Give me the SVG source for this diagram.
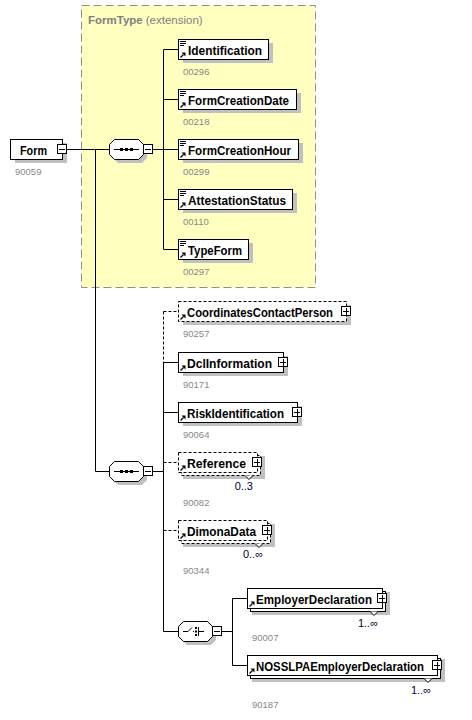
<svg xmlns="http://www.w3.org/2000/svg" xmlns:xlink="http://www.w3.org/1999/xlink" width="472" height="720" viewBox="0 0 472 720">
<style>
.bg{fill:#fff}
.box{fill:#fff;stroke:#000;stroke-width:1}
.opt{stroke-dasharray:3,2}
.sh{fill:#c0c0c0}
.lbl{font-family:"Liberation Sans",Arial,sans-serif;font-weight:bold;font-size:13px;fill:#000}
.num{font-family:"Liberation Sans",Arial,sans-serif;font-size:9.5px;fill:#888}
.mult{font-family:"Liberation Sans",Arial,sans-serif;font-size:11px;fill:#000030;text-anchor:end}
.conn{stroke:#000;stroke-width:1;fill:none}
.dash{stroke-dasharray:3,2}
</style>
<defs>
<g id="minus"><rect x="0.5" y="0.5" width="9" height="9" fill="#fff" stroke="#000"/><path d="M2 5.5h6" stroke="#000"/></g>
<g id="plus"><rect x="0.5" y="0.5" width="9" height="9" fill="#fff" stroke="#000"/><path d="M2 5.5h6M5.5 2v7" stroke="#000"/></g>
<g id="ref"><path d="M0.5 5.5L3.5 2.5" stroke="#000" stroke-width="1.3"/><path d="M1.5 0.5H5.5V4.5Z" fill="#000"/></g>
<g id="simple"><path d="M0 0.5h6M0 2.5h6M0 4.5h4" stroke="#000"/></g>
<g id="notch"><path d="M-4 0L0 4L4 0" fill="#fff" stroke="#000"/></g>
</defs>
<rect x="0" y="0" width="472" height="720" class="bg"/>

<g id="FormType">
<rect x="81.5" y="5.5" width="234" height="282" fill="#ffffc0" stroke="#909090" stroke-dasharray="8,4"/>
<text x="88" y="24" font-family="Liberation Sans, Arial, sans-serif" font-size="11.5px" fill="#808080"><tspan font-weight="bold">FormType</tspan><tspan dx="3">(extension)</tspan></text>
</g>

<g id="connectors">
<path class="conn" d="M67 149.5H109M95.5 149.5V471.5H109"/>
<path class="conn" d="M153 149.5H163.5M163.5 49.5V249.5M163.5 49.5H178M163.5 99.5H178M163.5 149.5H178M163.5 199.5H178M163.5 249.5H178"/>
<path class="conn" d="M153 471.5H163.5M163.5 362.5V631.5H178M163.5 362.5H178M163.5 412.5H178"/>
<path class="conn dash" d="M163.5 311.5V362.5M163.5 311.5H178M163.5 462.5H178M163.5 530.5H178"/>
<path class="conn" d="M222 631.5H232.5M232.5 598.5V665.5M232.5 598.5H247M232.5 665.5H247"/>
</g>

<g id="Form">
<rect class="sh" x="15" y="143" width="52" height="20"/>
<rect class="box" x="10.5" y="139.5" width="52" height="20"/>
<text class="lbl" x="20" y="154.5" textLength="27" lengthAdjust="spacingAndGlyphs">Form</text>
<use xlink:href="#minus" x="57" y="144"/>
<text class="num" x="15" y="175">90059</text>
</g>

<g id="seq1">
<path class="sh" d="M118 143H142L147 148V158L142 163H118L113 158V148Z"/>
<path class="box" d="M114.5 139.5H138.5L143.5 144.5V154.5L138.5 159.5H114.5L109.5 154.5V144.5Z"/>
<path d="M114 149.5H139" stroke="#000"/>
<rect x="120" y="148" width="3" height="3" fill="#000"/><rect x="125" y="148" width="3" height="3" fill="#000"/><rect x="130" y="148" width="3" height="3" fill="#000"/>
<use xlink:href="#minus" x="143" y="144"/>
</g>

<g id="Identification">
<rect class="sh" x="183" y="43" width="90" height="20"/>
<rect class="box" x="178.5" y="39.5" width="90" height="20"/>
<use xlink:href="#simple" x="180" y="41"/><use xlink:href="#ref" x="180" y="52"/>
<text class="lbl" x="188" y="54.5" textLength="74" lengthAdjust="spacingAndGlyphs">Identification</text>
<text class="num" x="183" y="75">00296</text>
</g>
<g id="FormCreationDate">
<rect class="sh" x="183" y="93" width="118" height="20"/>
<rect class="box" x="178.5" y="89.5" width="118" height="20"/>
<use xlink:href="#simple" x="180" y="91"/><use xlink:href="#ref" x="180" y="102"/>
<text class="lbl" x="188" y="104.5" textLength="101" lengthAdjust="spacingAndGlyphs">FormCreationDate</text>
<text class="num" x="183" y="125">00218</text>
</g>
<g id="FormCreationHour">
<rect class="sh" x="183" y="143" width="120" height="20"/>
<rect class="box" x="178.5" y="139.5" width="120" height="20"/>
<use xlink:href="#simple" x="180" y="141"/><use xlink:href="#ref" x="180" y="152"/>
<text class="lbl" x="188" y="154.5" textLength="103" lengthAdjust="spacingAndGlyphs">FormCreationHour</text>
<text class="num" x="183" y="175">00299</text>
</g>
<g id="AttestationStatus">
<rect class="sh" x="183" y="193" width="114" height="20"/>
<rect class="box" x="178.5" y="189.5" width="114" height="20"/>
<use xlink:href="#simple" x="180" y="191"/><use xlink:href="#ref" x="180" y="202"/>
<text class="lbl" x="188" y="204.5" textLength="98" lengthAdjust="spacingAndGlyphs">AttestationStatus</text>
<text class="num" x="183" y="225">00110</text>
</g>
<g id="TypeForm">
<rect class="sh" x="183" y="243" width="70" height="20"/>
<rect class="box" x="178.5" y="239.5" width="70" height="20"/>
<use xlink:href="#simple" x="180" y="241"/><use xlink:href="#ref" x="180" y="252"/>
<text class="lbl" x="188" y="254.5" textLength="54" lengthAdjust="spacingAndGlyphs">TypeForm</text>
<text class="num" x="183" y="275">00297</text>
</g>

<g id="seq2">
<path class="sh" d="M118 465H142L147 470V480L142 485H118L113 480V470Z"/>
<path class="box" d="M114.5 461.5H138.5L143.5 466.5V476.5L138.5 481.5H114.5L109.5 476.5V466.5Z"/>
<path d="M114 471.5H139" stroke="#000"/>
<rect x="120" y="470" width="3" height="3" fill="#000"/><rect x="125" y="470" width="3" height="3" fill="#000"/><rect x="130" y="470" width="3" height="3" fill="#000"/>
<use xlink:href="#minus" x="143" y="466"/>
</g>

<g id="CoordinatesContactPerson">
<rect class="sh" x="183" y="305" width="168" height="20"/>
<rect class="box opt" x="178.5" y="301.5" width="168" height="20"/>
<use xlink:href="#ref" x="180" y="314"/>
<text class="lbl" x="187" y="316.5" textLength="146" lengthAdjust="spacingAndGlyphs">CoordinatesContactPerson</text>
<use xlink:href="#plus" x="341" y="306"/>
<text class="num" x="183" y="337">90257</text>
</g>
<g id="DclInformation">
<rect class="sh" x="183" y="356" width="105" height="20"/>
<rect class="box" x="178.5" y="352.5" width="105" height="20"/>
<use xlink:href="#ref" x="180" y="365"/>
<text class="lbl" x="187" y="367.5" textLength="85" lengthAdjust="spacingAndGlyphs">DclInformation</text>
<use xlink:href="#plus" x="278" y="357"/>
<text class="num" x="183" y="388">90171</text>
</g>
<g id="RiskIdentification">
<rect class="sh" x="183" y="406" width="119" height="20"/>
<rect class="box" x="178.5" y="402.5" width="119" height="20"/>
<use xlink:href="#ref" x="180" y="415"/>
<text class="lbl" x="187" y="417.5" textLength="97" lengthAdjust="spacingAndGlyphs">RiskIdentification</text>
<use xlink:href="#plus" x="292" y="407"/>
<text class="num" x="183" y="438">90064</text>
</g>
<g id="Reference">
<rect class="sh" x="183" y="456" width="82" height="23"/>
<rect class="box opt" x="181.5" y="455.5" width="79" height="20"/>
<rect class="box opt" x="178.5" y="452.5" width="79" height="20"/>
<use xlink:href="#notch" x="249" y="475.5"/>
<use xlink:href="#ref" x="180" y="465"/>
<text class="lbl" x="187" y="467.5" textLength="59" lengthAdjust="spacingAndGlyphs">Reference</text>
<use xlink:href="#plus" x="252" y="457"/>
<text class="mult" x="253" y="490">0..3</text>
<text class="num" x="183" y="506">90082</text>
</g>
<g id="DimonaData">
<rect class="sh" x="183" y="524" width="92" height="23"/>
<rect class="box opt" x="181.5" y="523.5" width="89" height="20"/>
<rect class="box opt" x="178.5" y="520.5" width="89" height="20"/>
<use xlink:href="#notch" x="259" y="543.5"/>
<use xlink:href="#ref" x="180" y="533"/>
<text class="lbl" x="187" y="535.5" textLength="69" lengthAdjust="spacingAndGlyphs">DimonaData</text>
<use xlink:href="#plus" x="262" y="525"/>
<text class="mult" x="263" y="558">0..∞</text>
<text class="num" x="183" y="574">90344</text>
</g>

<g id="choice">
<path class="sh" d="M187 625H211L216 630V640L211 645H187L182 640V630Z"/>
<path class="box" d="M183.5 621.5H207.5L212.5 626.5V636.5L207.5 641.5H183.5L178.5 636.5V626.5Z"/>
<path d="M183 631.5H188L192 627.5M193 631.5H194M198.5 627V636M198.5 631.5H204" stroke="#000" fill="none"/>
<rect x="195" y="627" width="2" height="2" fill="#000"/><rect x="195" y="630.5" width="2" height="2" fill="#000"/><rect x="195" y="634" width="2" height="2" fill="#000"/>
<use xlink:href="#minus" x="212" y="626"/>
</g>

<g id="EmployerDeclaration">
<rect class="sh" x="252" y="592" width="138" height="23"/>
<rect class="box" x="250.5" y="591.5" width="135" height="20"/>
<rect class="box" x="247.5" y="588.5" width="135" height="20"/>
<use xlink:href="#notch" x="374" y="611.5"/>
<use xlink:href="#ref" x="249" y="601"/>
<text class="lbl" x="256" y="603.5" textLength="116" lengthAdjust="spacingAndGlyphs">EmployerDeclaration</text>
<use xlink:href="#plus" x="377" y="593"/>
<text class="mult" x="378" y="627">1..∞</text>
<text class="num" x="252" y="641">90007</text>
</g>
<g id="NOSSLPAEmployerDeclaration">
<rect class="sh" x="252" y="659" width="193" height="23"/>
<rect class="box" x="250.5" y="658.5" width="190" height="20"/>
<rect class="box" x="247.5" y="655.5" width="190" height="20"/>
<use xlink:href="#notch" x="428" y="678.5"/>
<use xlink:href="#ref" x="249" y="668"/>
<text class="lbl" x="256" y="670.5" textLength="168" lengthAdjust="spacingAndGlyphs">NOSSLPAEmployerDeclaration</text>
<use xlink:href="#plus" x="432" y="660"/>
<text class="mult" x="431" y="694">1..∞</text>
<text class="num" x="252" y="708">90187</text>
</g>
</svg>
